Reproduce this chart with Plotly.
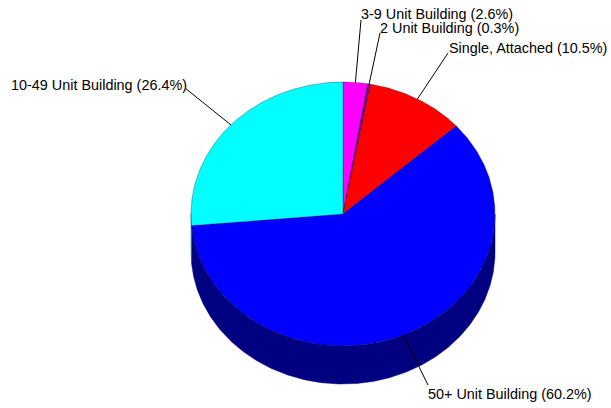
import math
import plotly.graph_objects as go

categories = ["3-9 Unit Building", "2 Unit Building", "Single, Attached", "50+ Unit Building", "10-49 Unit Building"]
shares = [2.6, 0.3, 10.5, 60.2, 26.4]

top_colors = ["#ff00ff", "#800080", "#ff0000", "#0000ff", "#00ffff"]
side_colors = ["#800080", "#400040", "#800000", "#000080", "#008080"]

# Layout geometry (pixels)
W, H = 611, 408
CX, CY, RX, RY, DEPTH = 343, 214, 152, 132, 38
label_pos = [(361, 14), (380, 27.5), (449, 48), (428, 394), (11, 85)]
elbows = [(361, 20), (380, 33), (448, 53), (428, 385), (185, 88)]


def pt(deg, dy=0):
    a = math.radians(deg)
    return CX + RX * math.sin(a), CY - RY * math.cos(a) + dy


def degrange(a, b):
    n = max(2, int(abs(b - a) * 2) + 1)
    return [a + (b - a) * i / (n - 1) for i in range(n)]


fig = go.Figure()
total = sum(shares)
start = 0.0
spans = []
for v in shares:
    end = start + v / total * 360
    spans.append((start, end))
    start = end

# side walls: only the front half (90..270 degrees) is visible
for (a, b), col in zip(spans, side_colors):
    lo, hi = max(a, 90), min(b, 270)
    if hi <= lo:
        continue
    arc = degrange(lo, hi)
    upper = [pt(d) for d in arc]
    lower = [pt(d, DEPTH) for d in reversed(arc)]
    poly = upper + lower + upper[:1]
    fig.add_trace(go.Scatter(x=[p[0] for p in poly], y=[p[1] for p in poly], mode="lines",
                             fill="toself", fillcolor=col, line=dict(color=col, width=0.5),
                             hoverinfo="skip", showlegend=False))

# top face
for (a, b), col in zip(spans, top_colors):
    arc = [pt(d) for d in degrange(a, b)]
    poly = [(CX, CY)] + arc + [(CX, CY)]
    fig.add_trace(go.Scatter(x=[p[0] for p in poly], y=[p[1] for p in poly], mode="lines",
                             fill="toself", fillcolor=col, line=dict(color="rgba(0,0,40,0.6)", width=0.5),
                             hoverinfo="skip", showlegend=False))

# leader lines and labels
for (a, b), name, v, e, lp in zip(spans, categories, shares, elbows, label_pos):
    s = pt((a + b) / 2)
    fig.add_trace(go.Scatter(x=[s[0], e[0]], y=[s[1], e[1]], mode="lines",
                             line=dict(color="#000000", width=1),
                             hoverinfo="skip", showlegend=False))
    fig.add_annotation(x=lp[0], y=lp[1], xref="x", yref="y", text=f"{name} ({v}%)",
                       showarrow=False, xanchor="left", yanchor="middle", xshift=-2,
                       font=dict(family="Liberation Sans, Arial, sans-serif", size=14.4, color="#000000"))

fig.update_layout(width=W, height=H, margin=dict(l=0, r=0, t=0, b=0), autosize=False,
                  paper_bgcolor="white", plot_bgcolor="white", showlegend=False,
                  xaxis=dict(range=[0, W], visible=False, fixedrange=True),
                  yaxis=dict(range=[H, 0], visible=False, fixedrange=True))
fig.write_html("out.html", config={"displayModeBar": False},
               post_script="document.body.style.margin='0';document.documentElement.style.overflow='hidden';")
